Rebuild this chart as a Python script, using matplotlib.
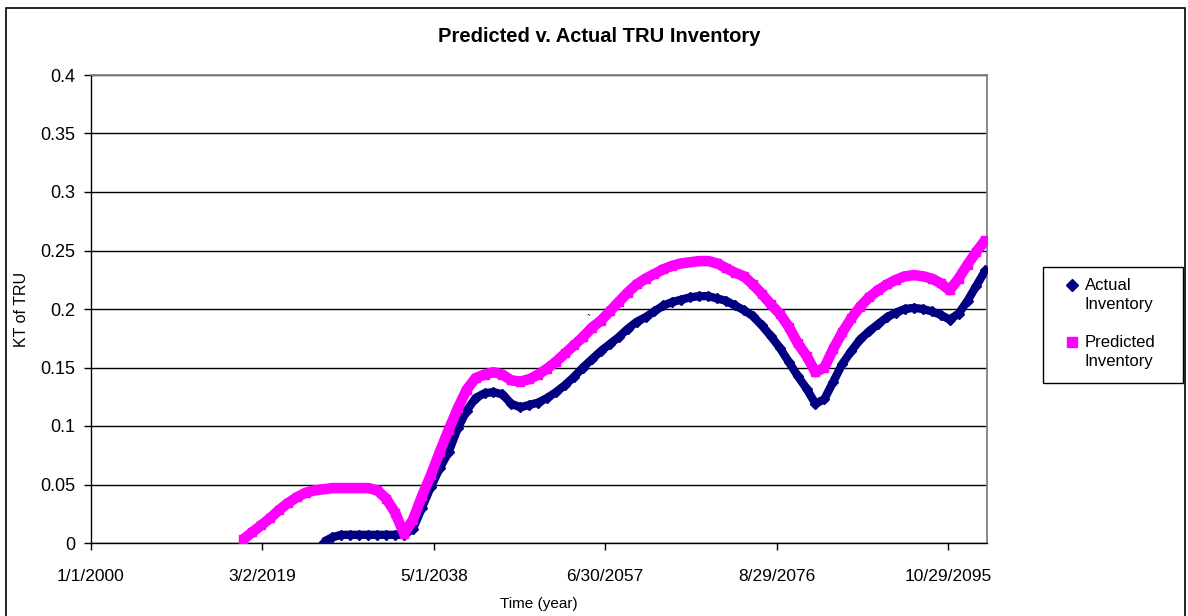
import datetime as dt

import matplotlib.pyplot as plt
from matplotlib.lines import Line2D
from matplotlib.patches import Rectangle
import numpy as np

plt.rcParams["font.family"] = ["Liberation Sans", "DejaVu Sans"]

# yearly inventory, kilotonnes of TRU (Jan 1 of each year)
PRED_YEARS = list(range(2017, 2101))
PREDICTED = [
    0.003, 0.009, 0.015, 0.021, 0.028, 0.034, 0.039, 0.043, 0.045, 0.046,  # 2017-2026
    0.047, 0.047, 0.047, 0.047, 0.047, 0.045, 0.038, 0.026, 0.008, 0.020,  # 2027-2036
    0.040, 0.058, 0.078, 0.097, 0.115, 0.131, 0.141, 0.144, 0.146, 0.144,  # 2037-2046
    0.139, 0.138, 0.140, 0.144, 0.149, 0.155, 0.162, 0.169, 0.176, 0.184,  # 2047-2056
    0.190, 0.198, 0.206, 0.214, 0.221, 0.226, 0.230, 0.234, 0.237, 0.239,  # 2057-2066
    0.240, 0.241, 0.241, 0.239, 0.235, 0.231, 0.228, 0.221, 0.213, 0.204,  # 2067-2076
    0.196, 0.185, 0.171, 0.160, 0.146, 0.150, 0.166, 0.180, 0.192, 0.202,  # 2077-2086
    0.210, 0.216, 0.221, 0.225, 0.228, 0.229, 0.228, 0.226, 0.222, 0.216,  # 2087-2096
    0.226, 0.238, 0.249, 0.259,                                            # 2097-2100
]

ACT_YEARS = list(range(2026, 2101))
ACTUAL = [
    0.001, 0.005, 0.007, 0.007, 0.007, 0.007, 0.007, 0.007, 0.007, 0.007,  # 2026-2035
    0.012, 0.030, 0.048, 0.064, 0.078, 0.098, 0.113, 0.124, 0.128, 0.129,  # 2036-2045
    0.127, 0.119, 0.116, 0.118, 0.120, 0.124, 0.129, 0.135, 0.142, 0.150,  # 2046-2055
    0.157, 0.164, 0.170, 0.176, 0.183, 0.189, 0.193, 0.198, 0.203, 0.206,  # 2056-2065
    0.208, 0.210, 0.211, 0.211, 0.209, 0.207, 0.203, 0.199, 0.194, 0.186,  # 2066-2075
    0.177, 0.167, 0.155, 0.143, 0.132, 0.119, 0.123, 0.138, 0.153, 0.164,  # 2076-2085
    0.174, 0.181, 0.187, 0.193, 0.197, 0.200, 0.201, 0.200, 0.198, 0.195,  # 2086-2095
    0.191, 0.196, 0.207, 0.220, 0.233,                                     # 2096-2100
]

TICK_LABELS = ["1/1/2000", "3/2/2019", "5/1/2038", "6/30/2057", "8/29/2076", "10/29/2095"]
Y_LABELS = ["0", "0.05", "0.1", "0.15", "0.2", "0.25", "0.3", "0.35", "0.4"]

C_ACT = "#000080"
C_PRED = "#FF00FF"

W, H = 1188, 616


def to_dates(years):
    return [dt.date(y, 1, 1) for y in years]


def fx(px):
    return px / W


def fy(py):
    return 1 - py / H


fig = plt.figure(figsize=(W / 100, H / 100), dpi=100)
ax = fig.add_axes([fx(91), fy(543), fx(896), 468 / H])

# actual first, predicted painted on top of it
ax.plot(to_dates(ACT_YEARS), ACTUAL, color=C_ACT, lw=6, marker="D",
        ms=5, solid_capstyle="butt", zorder=3)
ax.plot(to_dates(PRED_YEARS), PREDICTED, color=C_PRED, lw=7.5, marker="s",
        ms=5.5, solid_capstyle="butt", zorder=4)

# stray tick mark left on the chart
ax.text(dt.date(2055, 8, 1), 0.190, "`", fontsize=9, color="black",
        ha="center", va="center", zorder=5)

ticks = [dt.datetime.strptime(s, "%m/%d/%Y").date() for s in TICK_LABELS]
ax.set_xticks(ticks)
ax.set_xticklabels(TICK_LABELS, fontsize=12.5)
ax.set_xlim(dt.date(2000, 1, 1), dt.date(2100, 3, 8))

ax.set_ylim(0, 0.4)
ax.set_yticks(np.arange(0, 0.41, 0.05))
ax.set_yticklabels(Y_LABELS, fontsize=13)

ax.tick_params(direction="out", length=5, width=1, color="black", pad=6)
ax.tick_params(axis="x", pad=14)
ax.grid(axis="y", color="black", lw=1, zorder=0)
ax.set_axisbelow(True)

for s in ("top", "right"):
    ax.spines[s].set_color("#808080")
    ax.spines[s].set_linewidth(1.3)
for s in ("left", "bottom"):
    ax.spines[s].set_color("black")
    ax.spines[s].set_linewidth(1)

ax.set_ylabel("KT of TRU", fontsize=11.5, labelpad=8)
ax.set_xlabel("Time (year)", fontsize=11, labelpad=9)

fig.text(fx(599), fy(37), "Predicted v. Actual TRU Inventory",
         fontsize=14.5, fontweight="bold", ha="center", va="center")

# legend box: marker sits beside the first line of each wrapped label
fig.add_artist(Rectangle((fx(1043), fy(383)), fx(140), 116 / H,
                         transform=fig.transFigure, fill=False,
                         edgecolor="black", lw=1))
entries = [("Actual\nInventory", C_ACT, "D", 6, 285),
           ("Predicted\nInventory", C_PRED, "s", 7, 342)]
for label, color, mk, ms, py in entries:
    fig.add_artist(Line2D([fx(1072)], [fy(py)], transform=fig.transFigure,
                          ls="none", marker=mk, ms=ms, color=color))
    fig.text(fx(1085), fy(py - 7), label, fontsize=12, linespacing=1.3,
             ha="left", va="top")

fig.add_artist(Rectangle((fx(6), -0.02), fx(1179), 1.02 - 8 / H,
                         transform=fig.transFigure, fill=False,
                         edgecolor="black", lw=1.2, clip_on=False))

fig.savefig("out.png", dpi=100)
